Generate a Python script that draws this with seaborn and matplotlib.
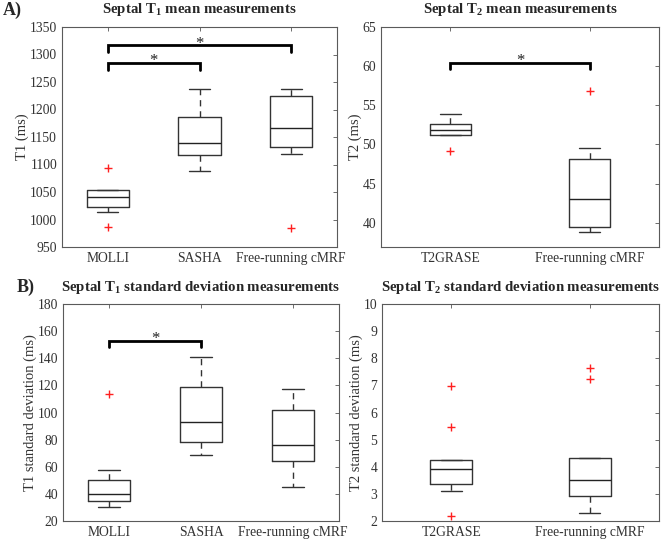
import matplotlib
matplotlib.use("Agg")
import pandas as pd
import matplotlib.pyplot as plt
import seaborn as sns

# five-number summaries: [low whisker, Q1, median, Q3, high whisker]
t1_methods = ["MOLLI", "SASHA", "Free-running cMRF"]
t2_methods = ["T2GRASE", "Free-running cMRF"]

t1_mean_box = [
    [1014, 1023, 1041, 1053, 1053],
    [1088, 1117, 1140, 1186, 1237],
    [1119, 1132, 1166, 1225, 1238],
]
t1_mean_out_method = ["MOLLI", "MOLLI", "Free-running cMRF"]
t1_mean_out = [1094, 986, 985]

t2_mean_box = [
    [51.2, 51.2, 51.8, 52.6, 53.95],
    [38.8, 39.5, 43.0, 48.1, 49.6],
]
t2_mean_out_method = ["T2GRASE", "Free-running cMRF"]
t2_mean_out = [49.2, 56.85]

t1_sd_box = [
    [30, 35, 39.6, 50, 57.3],
    [68.3, 78.2, 92.9, 119.1, 141.2],
    [45, 64.2, 75.7, 101.7, 117.4],
]
t1_sd_out_method = ["MOLLI"]
t1_sd_out = [114]

t2_sd_box = [
    [3.10, 3.38, 3.91, 4.24, 4.24],
    [2.29, 2.91, 3.51, 4.31, 4.31],
]
t2_sd_out_method = ["T2GRASE", "T2GRASE", "T2GRASE", "Free-running cMRF", "Free-running cMRF"]
t2_sd_out = [6.96, 5.47, 2.18, 7.63, 7.23]

# significance brackets: (from, to, height, tip)
t1_mean_sig = [(0, 1, 1285, 1272), (0, 2, 1317, 1304)]
t2_mean_sig = [(0, 1, 60.45, 59.6)]
t1_sd_sig = [(0, 1, 153, 148.5)]
t2_sd_sig = []

sns.set_style("white")
plt.rcParams["font.family"] = ["Liberation Serif", "DejaVu Serif"]
plt.rcParams["mathtext.fontset"] = "custom"
plt.rcParams["mathtext.rm"] = "Liberation Serif:bold"
plt.rcParams["mathtext.bf"] = "Liberation Serif:bold"

W, H = 663, 543
fig = plt.figure(figsize=(W / 100, H / 100), dpi=100)
line_c = "#333333"


def box_panel(rect, methods, boxes, out_method, out_vals, sigs, ylim, yticks,
              ylabel, title, width, pad):
    ax = fig.add_axes([rect[0] / W, 1 - rect[3] / H,
                       (rect[2] - rect[0]) / W, (rect[3] - rect[1]) / H])
    rows = []
    for m, vals in zip(methods, boxes):
        for v in vals:
            rows.append({"method": m, "value": v})
    df = pd.DataFrame(rows)
    sns.boxplot(data=df, x="method", y="value", order=methods, ax=ax,
                fill=False, whis=(0, 100), width=width, color=line_c,
                linecolor=line_c, linewidth=1.0, showfliers=False,
                boxprops={"color": line_c},
                whiskerprops={"linestyle": (0, (4.5, 3.5)), "color": line_c},
                capprops={"color": line_c},
                medianprops={"color": "#222222", "linewidth": 1.0})
    if out_vals:
        odf = pd.DataFrame({"method": out_method, "value": out_vals})
        sns.stripplot(data=odf, x="method", y="value", order=methods, ax=ax,
                      jitter=False, marker="+", color="#ff2020", size=5.5,
                      linewidth=1.0)
    for a, b, h, tip in sigs:
        ax.plot([a, a, b, b], [tip, h, h, tip], color="black", lw=2,
                solid_joinstyle="miter")
        ax.annotate("*", xy=((a + b) / 2, h), xytext=(0, -1.8),
                    textcoords="offset points", ha="center", va="baseline",
                    fontsize=12, color="#222222")
    ax.set_xlim(-0.5, len(methods) - 0.5)
    ax.set_ylim(*ylim)
    ax.set_yticks(yticks)
    ax.set_xlabel("")
    ax.set_ylabel(ylabel, fontsize=10.5, color="#333333", labelpad=0.5)
    ax.set_title(title, fontsize=10.7, fontweight="bold", pad=pad)
    ax.tick_params(direction="in", length=3, width=0.6, colors="#555555",
                   labelcolor="#333333", labelsize=9.8, top=True, right=True)
    for s in ax.spines.values():
        s.set_color("#5a5a5a")
        s.set_linewidth(0.8)
    return ax


box_panel((62, 27, 337, 247), t1_methods, t1_mean_box, t1_mean_out_method,
          t1_mean_out, t1_mean_sig, (950, 1350), range(950, 1351, 50),
          "T1 (ms)", r"Septal T$_{1}$ mean measurements", 0.46, 10)
box_panel((381, 27, 659, 247), t2_methods, t2_mean_box, t2_mean_out_method,
          t2_mean_out, t2_mean_sig, (36.9, 65), range(40, 66, 5),
          "T2 (ms)", r"Septal T$_{2}$ mean measurements", 0.30, 10)
box_panel((63, 304, 339, 521), t1_methods, t1_sd_box, t1_sd_out_method,
          t1_sd_out, t1_sd_sig, (20, 180), range(20, 181, 20),
          "T1 standard deviation (ms)",
          r"Septal T$_{1}$ standard deviation measurements", 0.46, 9)
box_panel((382, 304, 659, 521), t2_methods, t2_sd_box, t2_sd_out_method,
          t2_sd_out, t2_sd_sig, (2, 10), range(2, 11),
          "T2 standard deviation (ms)",
          r"Septal T$_{2}$ standard deviation measurements", 0.30, 9)

fig.text(3 / W, 1 - 10 / H, "A)", fontsize=13, fontweight="bold", va="center")
fig.text(17 / W, 1 - 287 / H, "B)", fontsize=13, fontweight="bold", va="center")

fig.savefig("out.png", dpi=100)
